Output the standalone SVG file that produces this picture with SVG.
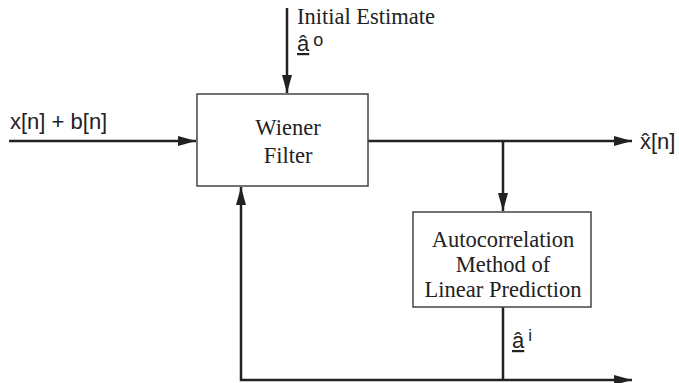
<svg xmlns="http://www.w3.org/2000/svg" width="679" height="383" viewBox="0 0 679 383">
<style>
.box{fill:#fff;stroke:#444;stroke-width:1.5}
.ln{fill:none;stroke:#222;stroke-width:2.5}
.serif{font-family:"Liberation Serif","Times New Roman",serif;font-size:22.5px;fill:#222}
.sans{font-family:"Liberation Sans",Arial,sans-serif;font-size:22px;fill:#222}
</style>
<defs>
<marker id="ah" viewBox="0 0 18 10" refX="18" refY="5" markerWidth="18" markerHeight="10" markerUnits="userSpaceOnUse" orient="auto" preserveAspectRatio="none">
<path d="M0,0 L18,5 L0,10 Z" fill="#222"/>
</marker>
</defs>
<rect width="679" height="383" fill="#fff"/>
<g id="connectors">
<line class="ln" x1="287" y1="8" x2="287" y2="93" marker-end="url(#ah)"/>
<line class="ln" x1="9" y1="141" x2="196" y2="141" marker-end="url(#ah)"/>
<line class="ln" x1="368" y1="141" x2="632" y2="141" marker-end="url(#ah)"/>
<line class="ln" x1="503" y1="141" x2="503" y2="211" marker-end="url(#ah)"/>
<polyline class="ln" points="503,307 503,380"/>
<line class="ln" x1="240" y1="380" x2="632" y2="380" marker-end="url(#ah)"/>
<line class="ln" x1="241" y1="381" x2="241" y2="187" marker-end="url(#ah)"/>
</g>
<g id="wiener">
<rect class="box" x="197" y="94" width="171" height="92"/>
<text class="serif" x="288" y="135" text-anchor="middle">Wiener</text>
<text class="serif" x="288" y="163" text-anchor="middle">Filter</text>
</g>
<g id="autocorr">
<rect class="box" x="413" y="212" width="178" height="95"/>
<text class="serif" x="503" y="247" text-anchor="middle">Autocorrelation</text>
<text class="serif" x="503" y="272" text-anchor="middle">Method of</text>
<text class="serif" x="503" y="297" text-anchor="middle">Linear Prediction</text>
</g>
<g id="labels">
<text class="serif" x="297" y="24">Initial Estimate</text>
<text class="sans" x="297" y="51"><tspan text-decoration="underline">â</tspan><tspan font-size="18" dx="4" dy="-5">o</tspan></text>
<text class="sans" x="10" y="129">x[n] + b[n]</text>
<text class="sans" x="640" y="149">x̂[n]</text>
<text class="sans" x="512" y="348"><tspan text-decoration="underline">â</tspan><tspan font-size="17" dx="4" dy="-7">i</tspan></text>
</g>
</svg>
